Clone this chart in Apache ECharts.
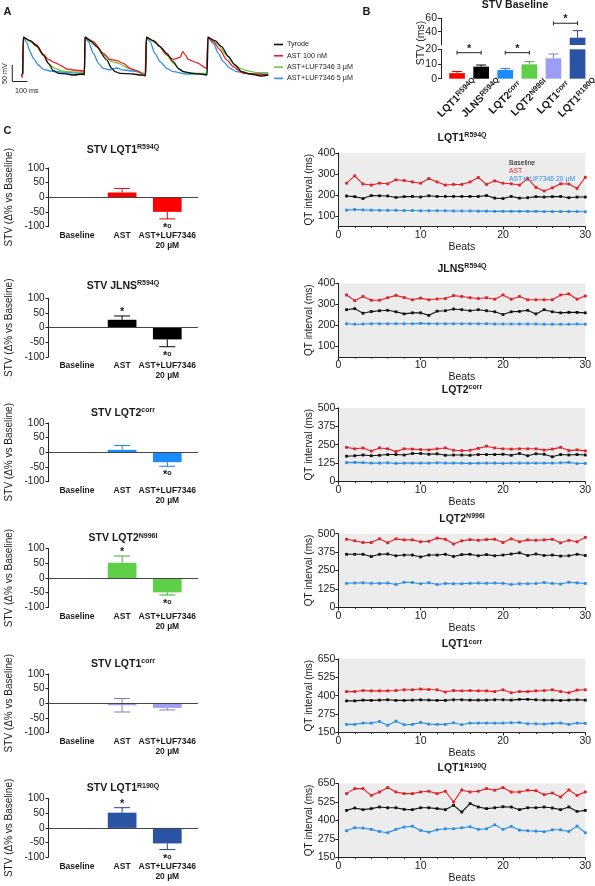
<!DOCTYPE html>
<html><head><meta charset="utf-8">
<script src="https://cdn.jsdelivr.net/npm/echarts@6/dist/echarts.min.js"></script>
<style>html,body{margin:0;padding:0;background:#fff}#c{width:595px;height:886px}</style>
</head><body><div id="c"></div>
<script>
const FONT = '"Liberation Sans", Arial, Helvetica, sans-serif';

// ---------- Panel A: action potential traces [time ms, mV] ----------
const traceNames = ['Tyrode', 'AST 100 nM', 'AST+LUF7346 3 µM', 'AST+LUF7346 5 µM'];
const tyrode = [[0,-80],[4,30],[49,20],[93,4],[138,-23],[171,-48],[204,-70],[238,-78],[293,-80],[337,-83],[404,-80],
  [411,-83],[415,30],[460,17],[493,2],[559,-38],[593,-63],[615,-73],[648,-78],[737,-80],[781,-83],[819,-84],
  [824,30],[870,20],[915,2],[959,-18],[1003,-43],[1037,-63],[1070,-73],[1126,-78],[1181,-80],[1228,-82],
  [1234,30],[1281,20],[1325,2],[1370,-28],[1414,-53],[1459,-73],[1514,-80],[1581,-86],[1636,-83]];
const ast100 = [[-8,-80],[-4,-90],[0,-85],[4,30],[49,20],[93,7],[138,-21],[171,-36],[215,-46],[260,-56],[293,-65],[337,-68],[404,-71],
  [411,-78],[415,30],[471,17],[537,-18],[582,-36],[626,-40],[670,-48],[715,-63],[759,-70],[815,-86],
  [824,30],[870,20],[915,2],[959,-23],[1003,-36],[1048,-30],[1066,-13],[1083,-23],[1103,-36],[1159,-46],[1225,-63],
  [1234,30],[1270,17],[1314,-8],[1359,-38],[1403,-58],[1436,-68],[1470,-78],[1537,-80],[1636,-83]];
const luf3 = [[0,-80],[4,28],[49,17],[93,2],[138,-26],[182,-53],[215,-63],[260,-71],[315,-73],[404,-76],
  [411,-80],[415,28],[482,7],[537,-23],[593,-43],[637,-48],[704,-63],[759,-70],[819,-80],
  [824,28],[892,12],[959,-23],[1003,-48],[1048,-68],[1092,-76],[1159,-78],[1228,-78],
  [1234,28],[1292,12],[1359,-23],[1403,-48],[1448,-63],[1492,-70],[1559,-76],[1636,-76]];
const luf5 = [[0,-80],[4,28],[27,14],[49,-13],[71,-33],[104,-53],[138,-66],[182,-71],[249,-74],[315,-76],[404,-78],
  [411,-80],[415,28],[437,17],[471,-18],[504,-48],[537,-63],[582,-68],[626,-62],[670,-68],[737,-71],[819,-80],
  [824,28],[848,17],[881,-18],[915,-43],[959,-63],[1003,-73],[1092,-80],[1181,-80],[1228,-83],
  [1234,28],[1270,12],[1303,-18],[1336,-43],[1381,-63],[1425,-73],[1492,-78],[1559,-80],[1636,-80]];

// ---------- Panel B: STV baseline ----------
const bCatBase = ['LQT1', 'JLNS', 'LQT2', 'LQT2', 'LQT1', 'LQT1'];
const bCatSup = ['R594Q', 'R594Q', 'corr', 'N996I', 'corr', 'R190Q'];
const bMeans = [3.8, 8.2, 5.9, 9.8, 13.9, 31];
const bSem = [1.1, 1.1, 1.1, 1.8, 2.9, 10.5];
const bBracketsLow = [[0, 17.7, 1], [2, 17.7, 3]];   // [from, y, to]
const bBracketsTop = [[4, 52.6, 5]];

// ---------- Panel C left: STV change ----------
const cCats = ['Baseline', 'AST', 'AST+LUF7346\n20 µM'];
const cTitleBase = ['STV LQT1', 'STV JLNS', 'STV LQT2', 'STV LQT2', 'STV LQT1', 'STV LQT1'];
const cTitleSup = ['R594Q', 'R594Q', 'corr', 'N996I', 'corr', 'R190Q'];
const cMeans = [[0, 16, -50], [0, 27, -40], [0, 8, -34], [0, 52, -49], [0, -7, -16], [0, 52, -53]];
const cSem = [[0, 14, 24], [0, 13, 25], [0, 15, 14], [0, 23, 9], [0, 23, 7], [0, 17, 21]];
const cErrBoth = [[0,0,0],[0,0,0],[0,0,0],[0,0,0],[0,1,0],[0,0,0]];
const cStarAST = [0, 1, 0, 1, 0, 1];
const cStarLUF = [1, 1, 1, 1, 0, 1];

// ---------- Panel C right: QT intervals ----------
const beats = [1,2,3,4,5,6,7,8,9,10,11,12,13,14,15,16,17,18,19,20,21,22,23,24,25,26,27,28,29,30];
const qtTitleBase = ['LQT1', 'JLNS', 'LQT2', 'LQT2', 'LQT1', 'LQT1'];
const qtTitleSup = ['R594Q', 'R594Q', 'corr', 'N996I', 'corr', 'R190Q'];
const qtSeriesNames = ['Baseline', 'AST', 'AST+LUF7346 20 µM'];
const qtYMin = [50, 50, 0, 0, 150, 150];
const qtYMax = [400, 400, 500, 500, 650, 650];
const qtYTicks = [[100,200,300,400],[100,200,300,400],[0,125,250,375,500],[0,125,250,375,500],[150,275,400,525,650],[150,275,400,525,650]];
const qtBaseline = [
  [195,192,183,197,196,195,188,192,193,190,196,193,193,193,193,193,193,197,185,183,193,185,187,192,190,192,193,187,190,190],
  [275,280,258,266,270,272,265,255,260,260,248,268,270,278,275,270,275,270,265,252,265,267,272,255,275,265,260,262,262,260],
  [172,175,180,175,178,183,183,180,190,190,185,188,178,180,180,178,183,183,183,185,178,190,175,188,185,168,183,180,183,180],
  [360,360,360,345,360,362,350,355,355,342,355,355,360,345,358,360,350,358,350,355,362,370,352,362,352,355,348,350,360,352],
  [365,365,370,368,370,372,368,368,370,372,370,368,368,372,372,370,370,370,372,372,370,375,375,372,370,370,368,370,372,370],
  [468,484,473,480,491,486,486,475,473,486,486,480,473,502,457,514,491,480,486,493,491,473,486,486,491,484,473,491,461,468]];
const qtAST = [
  [256,291,252,247,256,253,272,269,262,256,278,262,247,250,250,262,283,250,267,256,253,247,278,236,219,234,253,252,231,284],
  [345,318,338,320,320,332,343,333,322,330,322,326,328,342,338,332,328,332,325,345,325,338,322,322,322,322,345,350,325,340],
  [232,222,228,207,228,222,203,222,220,217,215,222,228,212,210,212,225,240,228,222,220,222,222,222,213,220,232,210,215,208],
  [462,452,440,440,465,438,465,458,458,445,448,470,462,430,452,460,455,460,462,440,465,445,458,455,458,462,438,455,445,475],
  [428,428,435,433,433,433,435,440,440,445,442,440,425,435,433,435,433,433,428,440,420,428,428,433,435,440,428,420,438,440],
  [582,616,616,570,593,623,593,582,582,593,598,582,598,525,607,593,598,616,605,623,593,593,605,602,575,586,559,607,570,593]];
const qtLUF = [
  [128,131,129,128,127,127,127,126,126,125,125,125,125,124,124,124,123,123,122,122,122,122,122,122,121,121,121,121,121,120],
  [208,206,207,208,208,208,208,208,208,210,208,208,208,208,208,208,208,208,207,207,207,207,207,207,206,206,206,206,207,206],
  [128,130,128,125,125,127,123,125,125,125,125,127,125,125,125,123,125,125,125,123,125,125,125,125,125,125,127,130,122,123],
  [163,165,167,163,163,165,155,170,168,160,167,155,162,160,160,163,165,163,165,163,155,160,160,162,168,162,158,170,166,162],
  [205,205,214,214,225,199,227,203,205,218,207,205,205,216,203,214,214,214,214,214,216,218,209,209,207,212,214,205,214,212],
  [330,350,348,339,325,316,339,355,361,332,320,336,343,343,350,357,339,343,370,339,359,334,330,327,323,336,336,325,361,316]];

// ---------- styles / layout ----------
const traceColors = ['#111111', '#ee1d23', '#6ccb3a', '#2e8fe6'];
const groupColors = ['#ff0000', '#000000', '#1a8cff', '#5fcf4a', '#9d9df5', '#2a53a3'];
const errColors = ['#e00000', '#000000', '#1a7ee6', '#47a838', '#7d7dc4', '#22468c'];
const qtColors = ['#111111', '#e41e26', '#2c8de6'];
const rowBottom = [226.5, 357, 481.5, 607.3, 732.5, 857.2];
const leftTitleGap = [18, 12.5, 10, 10.5, 10, 10.5];
const rightTitleGap = [15, 14.5, 18, 15, 14.5, 15];
const TXT = '#1a1a1a';

const grid = [], xAxis = [], yAxis = [], series = [], title = [], graphic = [];
function addAxes(g, xa, ya) {
  g.outerBoundsMode = 'none'; g.containLabel = false;
  const i = grid.length; grid.push(g); xa.gridIndex = i; ya.gridIndex = i; xAxis.push(xa); yAxis.push(ya); return i;
}
function supRich(mainSize, supSize) {
  return {
    m: {fontSize: mainSize, fontWeight: 'bold', fontFamily: FONT, color: TXT, verticalAlign: 'bottom', lineHeight: mainSize + 1},
    s: {fontSize: supSize, fontWeight: 'bold', fontFamily: FONT, color: TXT, verticalAlign: 'top', lineHeight: supSize + 1}
  };
}

// ===== Panel A =====
const ia = addAxes({left: 21.2, top: 35.6, width: 247.7, height: 43.4},
  {type: 'value', min: -10, max: 1640, show: false},
  {type: 'value', min: -95, max: 35, show: false});
const traces = [tyrode, ast100, luf3, luf5];
[3, 2, 1, 0].forEach(k => {
  series.push({type: 'line', name: traceNames[k], xAxisIndex: ia, yAxisIndex: ia, data: traces[k],
    showSymbol: false, smooth: 0.25, smoothMonotone: 'x', clip: false, color: traceColors[k],
    lineStyle: {width: 1.3, color: traceColors[k]}, z: 2 + (3 - k)});
});
graphic.push(
  {type: 'polyline', shape: {points: [[12.3, 65], [12.3, 81.5], [27.3, 81.5]]}, style: {stroke: '#222', lineWidth: 1, fill: null}},
  {type: 'text', x: 5, y: 73.5, rotation: Math.PI / 2, style: {text: '50 mV', fontSize: 7.2, fontFamily: FONT, fill: TXT, align: 'center', verticalAlign: 'middle'}},
  {type: 'text', x: 15, y: 91.5, style: {text: '100 ms', fontSize: 7.2, fontFamily: FONT, fill: TXT, verticalAlign: 'middle'}},
  {type: 'text', x: 3.5, y: 11.5, style: {text: 'A', fontSize: 11, fontWeight: 'bold', fontFamily: FONT, fill: TXT, verticalAlign: 'middle'}},
  {type: 'text', x: 362.5, y: 11.5, style: {text: 'B', fontSize: 11, fontWeight: 'bold', fontFamily: FONT, fill: TXT, verticalAlign: 'middle'}},
  {type: 'text', x: 3.5, y: 131, style: {text: 'C', fontSize: 11, fontWeight: 'bold', fontFamily: FONT, fill: TXT, verticalAlign: 'middle'}},
  {type: 'text', x: 421, y: 43, rotation: Math.PI / 2, style: {text: 'STV (ms)', fontSize: 10.5, fontFamily: FONT, fill: TXT, align: 'center', verticalAlign: 'middle'}}
);

// ===== Panel B =====
function errSeries(gi, data, colorFn, capW, clip) {
  return {type: 'custom', xAxisIndex: gi, yAxisIndex: gi, clip: clip, silent: true, z: 1, data: data,
    renderItem(params, api) {
      const x = api.value(0), m = api.value(1), e = api.value(2), both = api.value(3);
      if (!e) return null;
      const dir = m >= 0 ? 1 : -1;
      const top = api.coord([x, m + dir * e]);
      const base = api.coord([x, both ? m - dir * e : m]);
      const hw = capW / 2, col = colorFn(params.dataIndex);
      const st = {stroke: col, lineWidth: 1};
      const ch = [
        {type: 'line', shape: {x1: top[0], y1: top[1], x2: base[0], y2: base[1]}, style: st},
        {type: 'line', shape: {x1: top[0] - hw, y1: top[1], x2: top[0] + hw, y2: top[1]}, style: st}];
      if (both) ch.push({type: 'line', shape: {x1: base[0] - hw, y1: base[1], x2: base[0] + hw, y2: base[1]}, style: st});
      return {type: 'group', children: ch};
    }};
}
function bracketSeries(gi, data) {
  return {type: 'custom', xAxisIndex: gi, yAxisIndex: gi, clip: false, silent: true, z: 4, data: data,
    renderItem(params, api) {
      const a = api.coord([api.value(0), api.value(1)]), b = api.coord([api.value(2), api.value(1)]);
      const st = {stroke: '#222', lineWidth: 1};
      return {type: 'group', children: [
        {type: 'line', shape: {x1: a[0], y1: a[1], x2: b[0], y2: b[1]}, style: st},
        {type: 'line', shape: {x1: a[0], y1: a[1] - 2, x2: a[0], y2: a[1] + 2}, style: st},
        {type: 'line', shape: {x1: b[0], y1: b[1] - 2, x2: b[0], y2: b[1] + 2}, style: st},
        {type: 'text', x: (a[0] + b[0]) / 2, y: a[1] - 4, style: {text: '*', fontSize: 11, fontWeight: 'bold', fontFamily: FONT, fill: '#222', align: 'center', verticalAlign: 'middle'}}
      ]};
    }};
}
const bBarData = bMeans.map((v, k) => ({value: v, itemStyle: {color: groupColors[k]}}));
const bErrData = bMeans.map((v, k) => [k, v, bSem[k], 0]);
const bUpper = addAxes({left: 445, top: 18.3, width: 144.6, height: 26.7},
  {type: 'category', data: bCatBase, show: false},
  {type: 'value', min: 20, max: 60, offset: 4,
    axisLine: {show: true, onZero: false, lineStyle: {color: '#222'}}, axisTick: {show: true, length: 3, customValues: [40, 60], lineStyle: {color: '#222'}},
    axisLabel: {customValues: [40, 60], fontSize: 10.5, color: TXT, margin: 4}, splitLine: {show: false}});
const bLower = addAxes({left: 445, top: 49.3, width: 144.6, height: 29.4},
  {type: 'category', data: bCatBase, axisLine: {show: false}, axisTick: {show: false},
    axisLabel: {interval: 0, rotate: 45, margin: 19, align: 'center', verticalAlign: 'middle', hideOverlap: false,
      formatter: (v, i) => '{m|' + bCatBase[i] + '}{s|' + bCatSup[i] + '}', rich: supRich(10.5, 7.5)}},
  {type: 'value', min: 0, max: 20, interval: 10, offset: 4,
    axisLine: {show: true, onZero: false, lineStyle: {color: '#222'}}, axisTick: {show: true, length: 3, lineStyle: {color: '#222'}},
    axisLabel: {fontSize: 10.5, color: TXT, margin: 4}, splitLine: {show: false}});
[bUpper, bLower].forEach(gi => {
  series.push({type: 'bar', xAxisIndex: gi, yAxisIndex: gi, data: bBarData, barWidth: 15.7, clip: true, z: 2, silent: true});
  series.push(errSeries(gi, bErrData, k => errColors[k], 10, true));
});
series.push(bracketSeries(bLower, bBracketsLow));
series.push(bracketSeries(bUpper, bBracketsTop));
title.push({text: 'STV Baseline', left: 515, top: 0, textAlign: 'center', padding: 0,
  textStyle: {fontSize: 10.5, fontWeight: 'bold', fontFamily: FONT, color: TXT}});

// ===== Panel C left =====
for (let r = 0; r < 6; r++) {
  const bottom = rowBottom[r], top = bottom - 58.6;
  const gi = addAxes({left: 48.5, top: top, width: 149.5, height: 58.6},
    {type: 'value', min: -0.63, max: 2.68, axisLine: {show: false}, axisTick: {show: false}, splitLine: {show: false},
      axisLabel: {customValues: [0, 1, 2], formatter: v => cCats[Math.round(v)], fontWeight: 'bold', fontSize: 8.5, lineHeight: 10, margin: 4, color: TXT, verticalAlign: 'top'}},
    {type: 'value', min: -100, max: 100, interval: 50,
      axisLine: {show: true, onZero: false, lineStyle: {color: '#222'}}, axisTick: {show: true, length: 3, lineStyle: {color: '#222'}},
      axisLabel: {fontSize: 10, color: TXT, margin: 4}, splitLine: {show: false},
      name: 'STV (Δ% vs Baseline)', nameLocation: 'middle', nameGap: 34, nameTextStyle: {fontSize: 10, color: TXT, fontFamily: FONT}});
  const col = groupColors[r];
  series.push({type: 'bar', xAxisIndex: gi, yAxisIndex: gi, barWidth: 28.7, z: 2, silent: true,
    data: cMeans[r].map((v, k) => [k, v]), itemStyle: {color: col},
    markLine: {silent: true, symbol: 'none', animation: false, label: {show: false},
      lineStyle: {color: '#444', width: 1, type: 'solid'}, data: [{yAxis: 0}]}});
  series.push(errSeries(gi, cMeans[r].map((v, k) => [k, v, cSem[r][k], cErrBoth[r][k]]), () => errColors[r], 16, false));
  const stars = [];
  if (cStarAST[r]) stars.push([1, cMeans[r][1] + cSem[r][1], 0]);
  if (cStarLUF[r]) stars.push([2, cMeans[r][2] - cSem[r][2], 1]);
  series.push({type: 'custom', xAxisIndex: gi, yAxisIndex: gi, clip: false, silent: true, z: 5, data: stars,
    renderItem(params, api) {
      const p = api.coord([api.value(0), api.value(1)]);
      const below = api.value(2) === 1;
      return {type: 'text', x: p[0], y: below ? p[1] + 9 : p[1] - 4, style: {
        text: below ? '{a|*}{b|o}' : '{a|*}', align: 'center', verticalAlign: 'middle', fill: TXT,
        rich: {a: {fontSize: 11, fontWeight: 'bold', fontFamily: FONT, fill: TXT}, b: {fontSize: 7, fontWeight: 'bold', fontFamily: FONT, fill: TXT, verticalAlign: 'top'}}}};
    }});
  title.push({text: '{m|' + cTitleBase[r] + '}{s|' + cTitleSup[r] + '}', left: 123, top: top - leftTitleGap[r] - 6, textAlign: 'center', padding: 0,
    textStyle: {rich: supRich(10.5, 7)}});
}

// ===== Panel C right =====
for (let r = 0; r < 6; r++) {
  const bottom = rowBottom[r], top = bottom - 73.6;
  const gi = addAxes({left: 338.3, top: top, width: 247, height: 73.6, show: true, backgroundColor: '#ececec', borderWidth: 0},
    {type: 'value', min: 0, max: 30, interval: 10,
      axisLine: {show: true, onZero: false, lineStyle: {color: '#222'}}, axisTick: {show: true, length: 3, lineStyle: {color: '#222'}},
      minorTick: {show: true, splitNumber: 5, length: 1.5, lineStyle: {color: '#222'}},
      axisLabel: {fontSize: 10.5, color: TXT, margin: 3}, splitLine: {show: false},
      name: 'Beats', nameLocation: 'middle', nameGap: 15, nameTextStyle: {fontSize: 10.5, color: TXT, fontFamily: FONT}},
    {type: 'value', min: qtYMin[r], max: qtYMax[r],
      axisLine: {show: true, onZero: false, lineStyle: {color: '#222'}},
      axisTick: {show: true, length: 3, customValues: qtYTicks[r], lineStyle: {color: '#222'}},
      axisLabel: {customValues: qtYTicks[r], fontSize: 10.5, color: TXT, margin: 3}, splitLine: {show: false},
      name: 'QT interval (ms)', nameLocation: 'middle', nameGap: 21, nameTextStyle: {fontSize: 10, color: TXT, fontFamily: FONT}});
  [qtBaseline[r], qtAST[r], qtLUF[r]].forEach((arr, k) => {
    series.push({type: 'line', name: qtSeriesNames[k], xAxisIndex: gi, yAxisIndex: gi,
      data: beats.map((b, j) => [b, arr[j]]), symbol: 'rect', symbolSize: 2.8, color: qtColors[k],
      lineStyle: {width: 1.1, color: qtColors[k]}, itemStyle: {color: qtColors[k]}, z: 3});
  });
  title.push({text: '{m|' + qtTitleBase[r] + '}{s|' + qtTitleSup[r] + '}', left: 462, top: top - rightTitleGap[r] - 6, textAlign: 'center', padding: 0,
    textStyle: {rich: supRich(10.5, 7)}});
}

const legend = [
  {data: [0, 1, 2, 3].map(k => ({name: traceNames[k], icon: 'rect'})), orient: 'vertical', left: 269, top: 35.5,
    itemWidth: 9, itemHeight: 1.6, itemGap: 3.3, selectedMode: false,
    textStyle: {fontSize: 7.2, lineHeight: 8, fontFamily: FONT, color: TXT, padding: [0, 0, 0, -1]}},
  {data: qtSeriesNames.map((n, k) => ({name: n, icon: 'none', textStyle: {color: qtColors[k]}})), orient: 'vertical', left: 499, top: 155,
    itemWidth: 0, itemHeight: 6, itemGap: 0.6, selectedMode: false,
    textStyle: {fontSize: 6.8, lineHeight: 7, fontFamily: FONT}}
];

const chart = echarts.init(document.getElementById('c'), null, {renderer: 'canvas'});
chart.setOption({animation: false, textStyle: {fontFamily: FONT}, grid, xAxis, yAxis, series, title, legend, graphic});
</script></body></html>
